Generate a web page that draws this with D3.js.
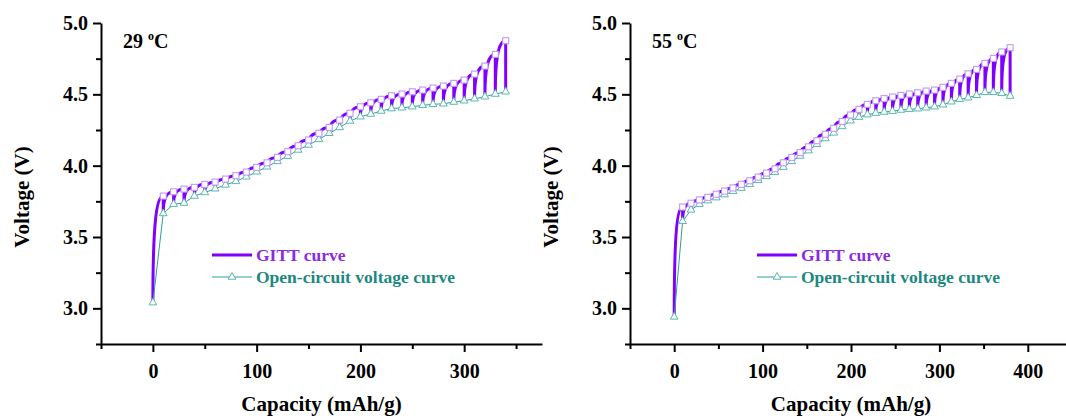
<!DOCTYPE html>
<html>
<head>
<meta charset="utf-8">
<script src="https://cdn.jsdelivr.net/npm/d3@7"></script>
<style>
  body { margin: 0; background: #fff; }
  svg text { font-family: "Liberation Serif", "Times New Roman", serif; font-weight: bold; }
</style>
</head>
<body>
<div id="visual"></div>
<script>
// 29 oC : capacity (mAh/g), GITT peak voltage (end of each pulse), relaxed OCV
const capLeft = [0, 10, 20, 30, 40, 50, 60, 70, 80, 90, 100, 110, 120, 130, 140, 150, 160, 170,
  180, 190, 200, 210, 220, 230, 240, 250, 260, 270, 280, 290, 300, 310, 320, 330, 340];
const gittLeft = [null, 3.787, 3.817, 3.836, 3.848, 3.869, 3.885, 3.906, 3.93, 3.955, 3.988, 4.02,
  4.058, 4.098, 4.14, 4.18, 4.227, 4.268, 4.32, 4.367, 4.413, 4.441, 4.465, 4.49, 4.502, 4.518,
  4.53, 4.544, 4.558, 4.577, 4.6, 4.642, 4.698, 4.78, 4.876];
const ocvLeft = [3.04, 3.665, 3.73, 3.738, 3.787, 3.812, 3.838, 3.865, 3.89, 3.922, 3.957, 3.992,
  4.03, 4.067, 4.11, 4.145, 4.184, 4.227, 4.268, 4.313, 4.343, 4.362, 4.383, 4.4, 4.406, 4.413,
  4.423, 4.43, 4.434, 4.446, 4.455, 4.469, 4.483, 4.502, 4.518];

// 55 oC
const capRight = [0, 9.5, 19, 28.5, 38, 47.5, 57, 66.5, 76, 85.5, 95, 104.5, 114, 123.5, 133,
  142.5, 152, 161.5, 171, 180.5, 190, 199.5, 209, 218.5, 228, 237.5, 247, 256.5, 266, 275.5, 285,
  294.5, 304, 313.5, 323, 332.5, 342, 351.5, 361, 370.5, 380];
const gittRight = [null, 3.71, 3.737, 3.76, 3.778, 3.8, 3.822, 3.844, 3.869, 3.894, 3.92, 3.948,
  3.978, 4.02, 4.058, 4.092, 4.132, 4.175, 4.22, 4.262, 4.31, 4.355, 4.395, 4.43, 4.455, 4.47,
  4.481, 4.493, 4.502, 4.511, 4.523, 4.53, 4.549, 4.577, 4.607, 4.644, 4.675, 4.717, 4.752, 4.797, 4.827];
const ocvRight = [2.94, 3.61, 3.69, 3.73, 3.755, 3.776, 3.797, 3.82, 3.843, 3.869, 3.897, 3.925,
  3.954, 3.99, 4.03, 4.068, 4.105, 4.15, 4.19, 4.23, 4.275, 4.315, 4.34, 4.358, 4.368, 4.376,
  4.382, 4.39, 4.395, 4.399, 4.406, 4.413, 4.427, 4.448, 4.465, 4.476, 4.493, 4.514, 4.514, 4.507, 4.488];

const yMajor = [3.0, 3.5, 4.0, 4.5, 5.0];
const yMinor = [2.75, 3.25, 3.75, 4.25, 4.75];
const xMajorLeft = [0, 100, 200, 300];
const xMajorRight = [0, 100, 200, 300, 400];
const xMinor = [-50, 50, 150, 250, 350];

const tempLabels = ["29", "55"];
const legendNames = ["GITT curve", "Open-circuit voltage curve"];

const gittColor = "#7f00ff", gittText = "#8a2be2", squareColor = "#bf99f5";
const ocvColor = "#2f9f99", triColor = "#5cb8b2", ocvText = "#1b8881";

const width = 1066, height = 418;
const plotTop = 23, plotBottom = 344;

const panels = [
  { temp: tempLabels[0], cap: capLeft, gitt: gittLeft, ocv: ocvLeft, domain: [-50, 375],
    x0: 101, x1: 542, major: xMajorLeft, legendX: 212 },
  { temp: tempLabels[1], cap: capRight, gitt: gittRight, ocv: ocvRight, domain: [-50, 450],
    x0: 630, x1: 1072, major: xMajorRight, legendX: 757 }
];

const svg = d3.select('#visual').append('svg')
  .attr('width', width)
  .attr('height', height)
  .style('display', 'block');

svg.append('rect').attr('width', width).attr('height', height).attr('fill', '#fff');

const y = d3.scaleLinear().domain([2.75, 5.0]).range([plotBottom, plotTop]);

panels.forEach(function(p) {
  const x = d3.scaleLinear().domain(p.domain).range([p.x0, p.x1]);
  const g = svg.append('g');

  // axes
  g.append('g').attr('transform', `translate(0,${plotBottom})`)
    .call(d3.axisBottom(x).tickValues(p.major).tickSize(8).tickSizeOuter(0).tickPadding(12)
      .tickFormat(d3.format('d')));
  g.append('g').attr('transform', `translate(0,${plotBottom})`)
    .call(d3.axisBottom(x).tickValues(xMinor).tickSize(5).tickSizeOuter(0).tickFormat(''))
    .select('.domain').remove();
  g.append('g').attr('transform', `translate(${p.x0},0)`)
    .call(d3.axisLeft(y).tickValues(yMajor).tickSize(8).tickSizeOuter(0).tickPadding(5)
      .tickFormat(d3.format('.1f')));
  g.append('g').attr('transform', `translate(${p.x0},0)`)
    .call(d3.axisLeft(y).tickValues(yMinor).tickSize(5).tickSizeOuter(0).tickFormat(''))
    .select('.domain').remove();

  g.selectAll('.domain').attr('stroke', '#000').attr('stroke-width', 2);
  g.selectAll('.tick line').attr('stroke', '#000').attr('stroke-width', 2);
  g.selectAll('.tick text').attr('fill', '#000').style('font-size', '20px')
    .style('font-family', '"Liberation Serif", serif').style('font-weight', 'bold');

  // axis titles
  g.append('text')
    .attr('x', (p.x0 + p.x1) / 2).attr('y', 411)
    .attr('text-anchor', 'middle').style('font-size', '21px')
    .text('Capacity (mAh/g)');
  g.append('text')
    .attr('transform', `translate(${p.x0 - 72},197) rotate(-90)`)
    .attr('text-anchor', 'middle').style('font-size', '21px')
    .text('Voltage (V)');

  // temperature label
  const t = g.append('text').attr('x', p.x0 + 22).attr('y', 48).style('font-size', '20px');
  t.append('tspan').text(p.temp + ' ');
  t.append('tspan').attr('dy', -8).style('font-size', '12px').text('o');
  t.append('tspan').attr('dy', 8).text('C');

  // GITT curve: each pulse rises from the relaxed OCV to the peak, then relaxes straight down
  const path = d3.path();
  path.moveTo(x(p.cap[0]), y(p.ocv[0]));
  for (let i = 1; i < p.cap.length; i++) {
    const xa = x(p.cap[i - 1]), xb = x(p.cap[i]);
    const ya = y(p.ocv[i - 1]), yb = y(p.gitt[i]);
    path.bezierCurveTo(xa, ya + (yb - ya) * 0.75, xa + (xb - xa) * 0.35, yb, xb, yb);
    path.lineTo(xb, y(p.ocv[i]));
  }
  g.append('path').attr('d', path.toString())
    .attr('fill', 'none').attr('stroke', gittColor).attr('stroke-width', 3)
    .attr('stroke-linejoin', 'round');

  // OCV curve
  const line = d3.line().x((d, i) => x(p.cap[i])).y(d => y(d));
  g.append('path').attr('d', line(p.ocv))
    .attr('fill', 'none').attr('stroke', ocvColor).attr('stroke-width', 1);

  const tri = d3.symbol().type(d3.symbolTriangle).size(26);
  g.selectAll('.tri').data(p.ocv).enter().append('path')
    .attr('transform', (d, i) => `translate(${x(p.cap[i])},${y(d)})`)
    .attr('d', tri)
    .attr('fill', '#fff').attr('stroke', triColor).attr('stroke-width', 1);

  g.selectAll('.sq').data(p.gitt.filter(d => d !== null)).enter().append('rect')
    .attr('x', (d, i) => x(p.cap[i + 1]) - 3)
    .attr('y', d => y(d) - 3)
    .attr('width', 6).attr('height', 6)
    .attr('fill', '#fff').attr('stroke', squareColor).attr('stroke-width', 1.1);

  // legend
  const lx = p.legendX;
  g.append('line').attr('x1', lx).attr('x2', lx + 40).attr('y1', 255).attr('y2', 255)
    .attr('stroke', gittColor).attr('stroke-width', 3);
  g.append('text').attr('x', lx + 44).attr('y', 261).attr('fill', gittText)
    .style('font-size', '17.5px').text(legendNames[0]);
  g.append('line').attr('x1', lx).attr('x2', lx + 40).attr('y1', 277).attr('y2', 277)
    .attr('stroke', ocvColor).attr('stroke-width', 1);
  g.append('path').attr('transform', `translate(${lx + 20},277)`).attr('d', tri)
    .attr('fill', '#fff').attr('stroke', triColor).attr('stroke-width', 1);
  g.append('text').attr('x', lx + 44).attr('y', 283).attr('fill', ocvText)
    .style('font-size', '17.5px').text(legendNames[1]);
});
</script>
</body>
</html>
